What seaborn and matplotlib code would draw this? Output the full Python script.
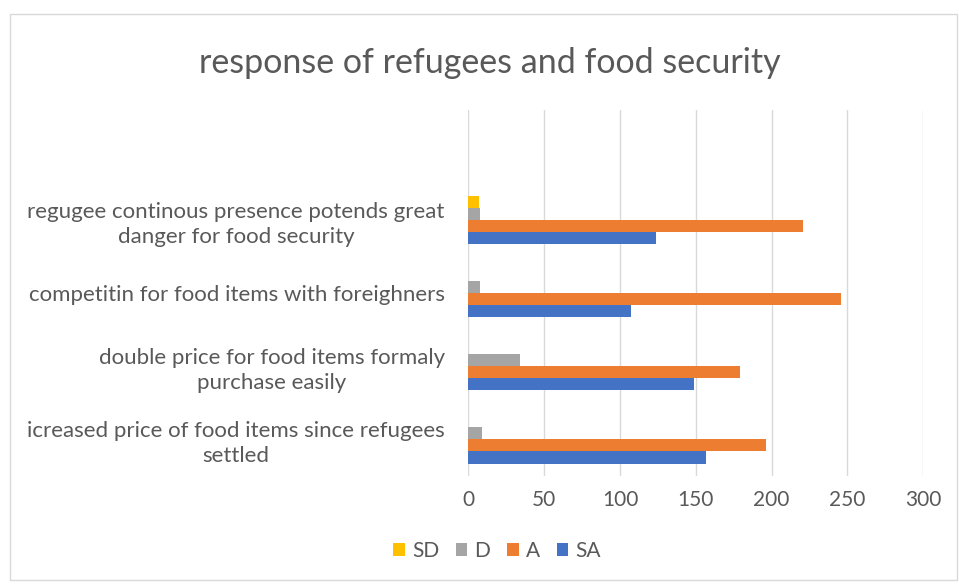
import textwrap

import pandas as pd
import matplotlib.pyplot as plt
import seaborn as sns
from matplotlib.patches import Rectangle

# Data
statements = [
    "regugee continous presence potends great danger for food security",
    "competitin for food items with foreighners",
    "double price for food items formaly purchase easily",
    "icreased price of food items since refugees settled",
]
responses = ["SD", "D", "A", "SA"]
sd_values = [7, 0, 0, 0]
d_values = [8, 8, 34, 9]
a_values = [221, 246, 179, 196]
sa_values = [124, 107, 149, 157]

colors = {"SD": "#FFC000", "D": "#A5A5A5", "A": "#ED7D31", "SA": "#4472C4"}
text_color = "#595959"

rows = []
for resp, vals in zip(responses, [sd_values, d_values, a_values, sa_values]):
    for stmt, v in zip(statements, vals):
        rows.append({"statement": stmt, "response": resp, "count": v})
df = pd.DataFrame(rows)

sns.set_theme(style="white")
plt.rcParams["font.family"] = ["Lato", "DejaVu Sans"]

fig = plt.figure(figsize=(9.59, 5.86), dpi=100)
ax = fig.add_axes([468.3 / 959, 1 - 476 / 586, (923.3 - 468.3) / 959, (476 - 110) / 586])

sns.barplot(data=df, x="count", y="statement", hue="response", order=statements,
            hue_order=responses, palette=colors, orient="h", width=0.66,
            saturation=1, linewidth=0, ax=ax, legend=True)

ax.set_xlim(0, 300)
ax.set_ylim(3.5, -1.5)
ax.set_xticks(range(0, 301, 50))
ax.xaxis.grid(True, color="#D9D9D9", linewidth=1)
ax.set_axisbelow(True)
for s in ax.spines.values():
    s.set_visible(False)
ax.set_xlabel("")
ax.set_ylabel("")
ax.tick_params(axis="x", colors=text_color, labelsize=15, length=0, pad=10)
ax.tick_params(axis="y", colors=text_color, labelsize=16, length=0, pad=17)
ax.set_yticks(range(len(statements)))
ax.set_yticklabels([textwrap.fill(s, 43) for s in statements])
for lab in ax.get_yticklabels():
    lab.set_multialignment("center")
    lab.set_linespacing(1.3)

handles, labels = ax.get_legend_handles_labels()
ax.get_legend().remove()
fig.legend(handles, labels, loc="center", bbox_to_anchor=(497 / 959, 1 - 551 / 586),
           ncol=4, frameon=False, fontsize=15, handlelength=0.55, handleheight=0.55,
           handletextpad=0.35, columnspacing=0.8, labelcolor=text_color)

fig.text(490 / 959, 1 - 63 / 586, "response of refugees and food security",
         ha="center", va="center", fontsize=24.5, color=text_color)

fig.patches.append(Rectangle((10 / 959, 1 - 580 / 586), 947 / 959, 566 / 586,
                             transform=fig.transFigure, fill=False,
                             edgecolor="#D9D9D9", linewidth=1))

fig.savefig("out.png", dpi=100)
